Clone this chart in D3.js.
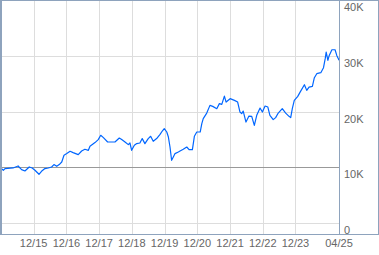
<!DOCTYPE html>
<html lang="en">
<head>
<meta charset="utf-8" />
<title>Growth chart</title>
<style>
  body { margin: 0; background: #fff; }
  svg { display: block; font-family: "Liberation Sans", Arial, sans-serif; }
  .grid { stroke: #dddddd; stroke-width: 1; shape-rendering: crispEdges; }
  .base { stroke: #999999; stroke-width: 1; shape-rendering: crispEdges; }
  .frame { stroke: #8ea3bd; stroke-width: 1; fill: none; shape-rendering: crispEdges; }
  .lbl { fill: #666; font-size: 11px; }
  .series { fill: none; stroke: #0066ff; stroke-width: 1.2; stroke-linejoin: round; }
</style>
</head>
<body>
<div id="chart"></div>
<script src="https://d3js.org/d3.v7.min.js"></script>
<script>
// ---- data ----
const dates = [
  "2015-01-01","2015-01-27","2015-02-15","2015-05-16","2015-07-11","2015-08-19","2015-09-25","2015-11-12",
  "2015-12-15","2016-01-15","2016-02-29","2016-03-28","2016-05-05","2016-06-11","2016-07-19","2016-08-14",
  "2016-09-14","2016-10-12","2016-11-09","2016-12-04","2017-01-04","2017-02-10","2017-03-16","2017-05-12",
  "2017-06-19","2017-07-25","2017-09-02","2017-09-20","2017-11-15","2017-12-21","2018-01-18","2018-02-17",
  "2018-04-05","2018-06-26","2018-08-13","2018-09-09","2018-10-16","2018-11-22","2018-12-10","2018-12-29",
  "2019-01-28","2019-02-24","2019-03-31","2019-04-26","2019-05-26","2019-07-02","2019-07-29","2019-08-27",
  "2019-10-04","2019-11-11","2019-12-06","2019-12-28","2020-01-25","2020-02-12","2020-03-01","2020-03-19",
  "2020-04-07","2020-04-26","2020-06-02","2020-06-21","2020-07-27","2020-09-04","2020-09-30","2020-11-06",
  "2020-11-28","2020-12-25","2021-02-01","2021-02-19","2021-03-07","2021-04-15","2021-05-21","2021-06-21",
  "2021-08-05","2021-09-03","2021-09-30","2021-10-29","2021-11-17","2022-01-01","2022-02-18","2022-03-26",
  "2022-04-21","2022-05-10","2022-05-27","2022-06-27","2022-07-30","2022-08-30","2022-09-28","2022-10-25",
  "2022-12-01","2022-12-27","2023-01-26","2023-02-26","2023-03-21","2023-04-27","2023-05-24","2023-06-22",
  "2023-08-06","2023-09-13","2023-10-20","2023-11-08","2023-11-26","2023-12-18","2024-01-26","2024-02-21",
  "2024-04-09","2024-05-05","2024-05-31","2024-07-07","2024-07-29","2024-08-25","2024-10-09","2024-11-08",
  "2024-11-27","2024-12-08","2024-12-27","2025-01-11","2025-02-10","2025-03-17","2025-04-05","2025-04-23",
  "2025-04-30"
];
const values = [
  9900, 9550, 9850, 9960, 10320, 9670, 9420, 10140,
  9960, 9550, 8830, 9370, 9850, 9960, 10140, 10570,
  10260, 10570, 11030, 12240, 12540, 12950, 12720, 12360,
  13000, 13310, 13130, 13850, 14510, 15050, 15820, 15400,
  14620, 14620, 15330, 15050, 14620, 14150, 14440, 13130,
  14030, 14330, 14440, 15230, 14330, 15230, 15640, 14740,
  15230, 16000, 16590, 17020, 16410, 15510, 13720, 11340,
  11930, 12540, 12830, 13000, 13310, 13720, 13260, 13260,
  15640, 16410, 16410, 17910, 18810, 19810, 21190, 21010,
  20600, 21500, 21370, 22860, 21780, 22390, 22090, 21780,
  19990, 19700, 20170, 18200, 19270, 19220, 17610, 19400,
  20710, 19990, 21070, 20890, 19400, 18630, 18990, 19810,
  20600, 19810, 19220, 18990, 20600, 22090, 22800, 23570,
  24900, 23880, 24470, 24590, 26150, 26870, 27050, 27940,
  29560, 30740, 29250, 30150, 31170, 31170, 30150, 29560,
  29300
];
const startValue = 10000;
const yTicks = [0, 10000, 20000, 30000, 40000];
const yTickLabels = ["0", "10K", "20K", "30K", "40K"];
const xTickDates = ["2015-12-31","2016-12-31","2017-12-31","2018-12-31","2019-12-31",
                    "2020-12-31","2021-12-31","2022-12-31","2023-12-31","2025-04-30"];
const xTickLabels = ["12/15","12/16","12/17","12/18","12/19","12/20","12/21","12/22","12/23","04/25"];

// ---- layout ----
const W = 379, H = 255;
const plotL = 1, plotR = 339, plotT = 0, plotB = 234.5, panelR = 378;

const parse = d3.timeParse("%Y-%m-%d");
const series = dates.map((d, i) => ({ date: parse(d), value: values[i] }));

const x = d3.scaleTime()
  .domain([parse("2015-01-01"), parse("2025-04-30")])
  .range([plotL, plotR]);
const y = d3.scaleLinear()
  .domain([0, 40000])
  .range([223.5, 0.5]);

const svg = d3.select("#chart").append("svg")
  .attr("width", W)
  .attr("height", H);

// vertical gridlines
svg.append("g").selectAll("line")
  .data(xTickDates.slice(0, -1).map(parse))
  .join("line")
    .attr("class", "grid")
    .attr("x1", d => Math.round(x(d)) + 0.5)
    .attr("x2", d => Math.round(x(d)) + 0.5)
    .attr("y1", plotT)
    .attr("y2", plotB);

// horizontal gridlines
svg.append("g").selectAll("line")
  .data(yTicks.filter(v => v !== startValue))
  .join("line")
    .attr("class", "grid")
    .attr("x1", plotL)
    .attr("x2", plotR)
    .attr("y1", d => Math.round(y(d) - 0.5) + 0.5)
    .attr("y2", d => Math.round(y(d) - 0.5) + 0.5);

// starting value line
svg.append("line")
  .attr("class", "base")
  .attr("x1", plotL)
  .attr("x2", plotR)
  .attr("y1", Math.round(y(startValue) - 0.5) + 0.5)
  .attr("y2", Math.round(y(startValue) - 0.5) + 0.5);

// series line
svg.append("path")
  .datum(series)
  .attr("class", "series")
  .attr("d", d3.line().x(d => x(d.date)).y(d => y(d.value)));

// frames
svg.append("rect").attr("class", "frame")
  .attr("x", 0.5).attr("y", 0.5)
  .attr("width", plotR).attr("height", plotB - 0.5);
svg.append("line").attr("class", "frame")
  .attr("x1", 1.5).attr("x2", 1.5).attr("y1", 0).attr("y2", plotB);
svg.append("rect").attr("class", "frame")
  .attr("x", plotR + 0.5).attr("y", 0.5)
  .attr("width", panelR - plotR).attr("height", plotB - 0.5);

// y labels
svg.append("g").selectAll("text")
  .data(yTicks)
  .join("text")
    .attr("class", "lbl")
    .attr("x", 344)
    .attr("y", d => y(d) + 10.5)
    .text((d, i) => yTickLabels[i]);

// x labels
svg.append("g").selectAll("text")
  .data(xTickDates.map(parse))
  .join("text")
    .attr("class", "lbl")
    .attr("text-anchor", "middle")
    .attr("x", d => x(d))
    .attr("y", 247)
    .text((d, i) => xTickLabels[i]);
</script>
</body>
</html>
